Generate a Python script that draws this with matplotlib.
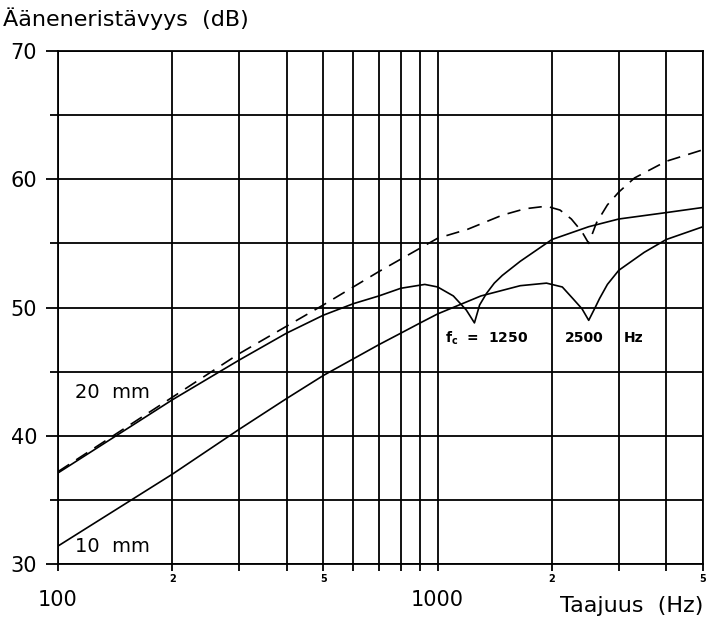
import matplotlib
matplotlib.use("Agg")
import matplotlib.pyplot as plt
from matplotlib.ticker import FixedLocator, FixedFormatter, NullFormatter

plt.rcParams['font.family'] = ['DejaVu Sans']

# 20 mm, dashed curve
f_dash = [100, 200, 300, 500, 700, 1000, 1200, 1480, 1700, 1935, 2100, 2250, 2400, 2500,
          2620, 2800, 3000, 3300, 4000, 5000]
r_dash = [37.2, 43.0, 46.4, 50.2, 52.8, 55.4, 56.1, 57.2, 57.7, 57.9, 57.6, 56.9, 55.9, 55.0,
          56.6, 58.0, 59.0, 60.1, 61.4, 62.3]

# 20 mm, solid curve (fc = 1250 Hz)
f_20 = [100, 200, 300, 400, 500, 600, 700, 800, 925, 1000, 1100, 1190, 1250,
        1290, 1345, 1410, 1480, 1650, 2000, 2500, 3000, 4000, 5000]
r_20 = [37.1, 42.8, 45.9, 48.0, 49.4, 50.3, 50.9, 51.5, 51.8, 51.6, 50.9, 49.8, 48.8,
        50.2, 51.1, 51.9, 52.5, 53.6, 55.3, 56.3, 56.9, 57.4, 57.8]

# 10 mm, solid curve (fc = 2500 Hz)
f_10 = [100, 200, 300, 400, 500, 600, 700, 800, 900, 1000, 1300, 1650, 1935, 2130,
        2270, 2400, 2500, 2600, 2670, 2800, 3000, 3500, 4000, 5000]
r_10 = [31.4, 37.0, 40.5, 42.9, 44.7, 46.0, 47.1, 48.0, 48.8, 49.5, 50.9, 51.7, 51.9, 51.6,
        50.7, 49.9, 49.0, 50.0, 50.7, 51.8, 52.9, 54.3, 55.3, 56.3]

x_major = [100, 1000]
x_minor = [200, 300, 400, 500, 600, 700, 800, 900, 2000, 3000, 4000, 5000]
x_minor_labels = ['2', '', '', '5', '', '', '', '', '2', '', '', '5']
y_major = [30, 40, 50, 60, 70]
y_minor = [35, 45, 55, 65]

fig = plt.figure(figsize=(7.06, 6.25), dpi=100)
ax = fig.add_axes([58/706, 1 - 564/625, (703 - 58)/706, (564 - 51)/625])

ax.plot(f_dash, r_dash, color='black', lw=1.2, ls=(0, (8, 5)))
ax.plot(f_20, r_20, color='black', lw=1.2)
ax.plot(f_10, r_10, color='black', lw=1.2)

ax.set_xscale('log')
ax.set_xlim(100, 5000)
ax.set_ylim(30, 70)

ax.xaxis.set_major_locator(FixedLocator(x_major))
ax.xaxis.set_major_formatter(FixedFormatter(['100', '1000']))
ax.xaxis.set_minor_locator(FixedLocator(x_minor))
ax.xaxis.set_minor_formatter(FixedFormatter(x_minor_labels))
ax.yaxis.set_major_locator(FixedLocator(y_major))
ax.yaxis.set_minor_locator(FixedLocator(y_minor))
ax.yaxis.set_minor_formatter(NullFormatter())

ax.grid(True, which='both', color='black', lw=1.3)
for s in ax.spines.values():
    s.set_linewidth(1.3)

ax.tick_params(axis='x', which='both', direction='out', length=5, width=1.3)
ax.tick_params(axis='x', which='major', labelsize=15, pad=14)
ax.tick_params(axis='x', which='minor', labelsize=7, pad=2)
for lab in ax.xaxis.get_minorticklabels():
    lab.set_fontweight('bold')
ax.tick_params(axis='y', which='major', direction='out', length=9, width=1.3,
               labelsize=15, pad=6)
ax.tick_params(axis='y', which='minor', direction='out', length=6, width=1.3)

ax.text(111, 43.4, '20  mm', fontsize=14, va='center')
ax.text(111, 31.4, '10  mm', fontsize=14, va='center')
ax.text(1043, 47.6, r'$\mathbf{f_c}$  =  1250', fontsize=10, fontweight='bold', va='center')
ax.text(2165, 47.6, '2500', fontsize=10, fontweight='bold', va='center')
ax.text(3096, 47.6, 'Hz', fontsize=10, fontweight='bold', va='center')

fig.text(3/706, 1 - 19/625, 'Ääneneristävyys  (dB)', fontsize=16, va='center', ha='left')
fig.text(703/706, 1 - 606/625, 'Taajuus  (Hz)', fontsize=16, va='center', ha='right')

fig.savefig('out.png', dpi=100)
